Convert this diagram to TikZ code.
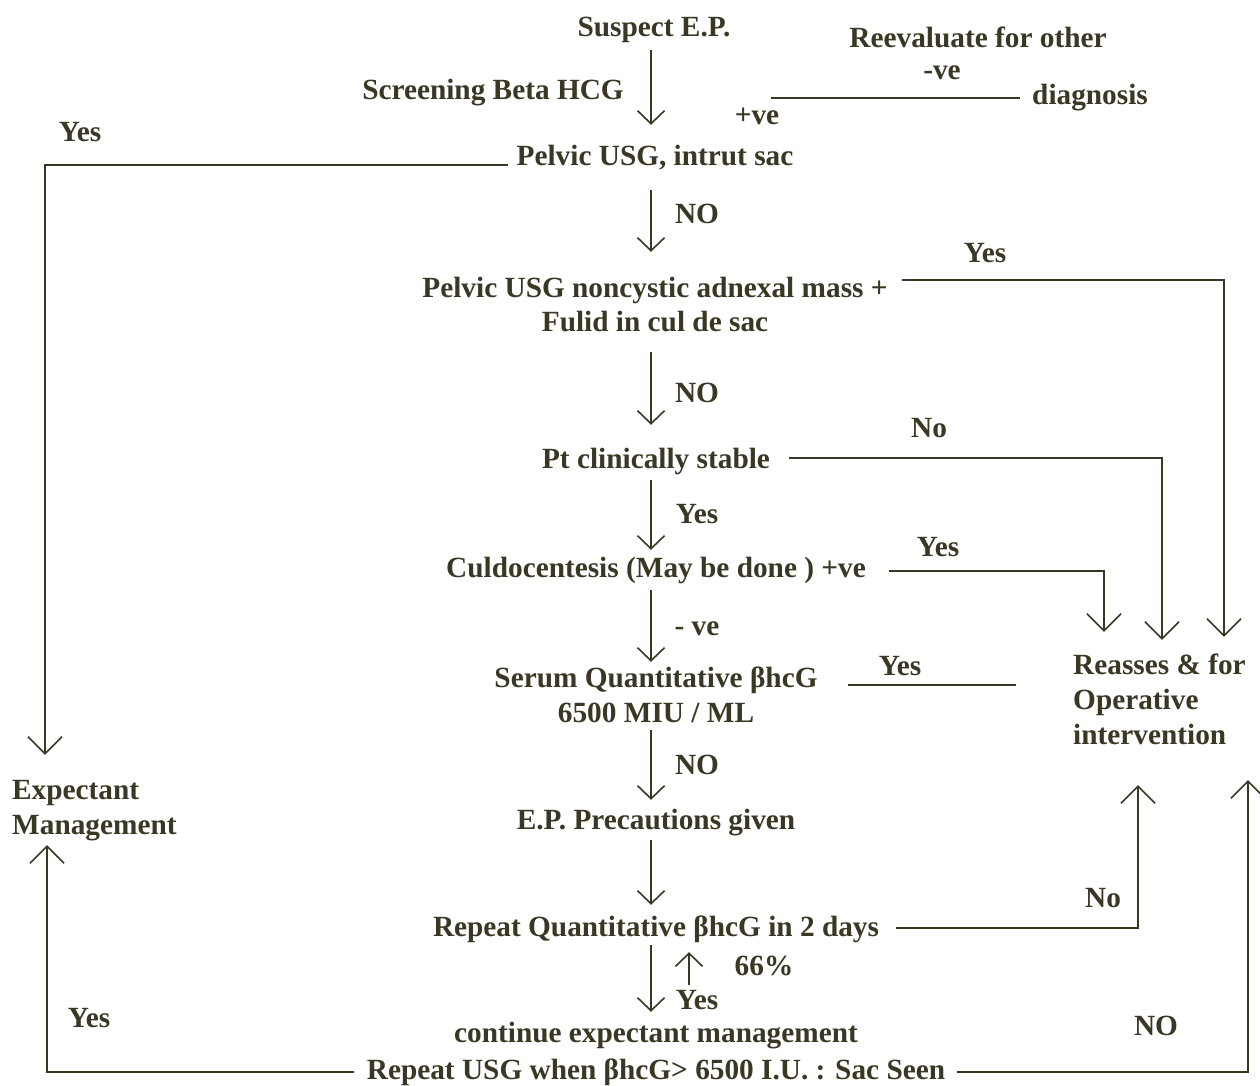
\documentclass[tikz,border=0pt]{standalone}
\usepackage{fontspec}
\setmainfont{Liberation Serif}
\usetikzlibrary{arrows.meta}
\definecolor{ink}{RGB}{58,56,36}
\begin{document}
\begin{tikzpicture}[x=1pt,y=-1pt,
  txt/.style={font=\fontsize{29.3}{35}\selectfont\bfseries, text=ink, inner sep=0pt, text height=20pt, text depth=6pt, anchor=base},
  txtw/.style={txt, anchor=base west},
  arr/.style={draw=ink, line width=1.6pt, -{Straight Barb[length=13pt,width=27pt,line width=1.6pt]}},
  arrb/.style={draw=ink, line width=1.6pt, -{Straight Barb[length=17pt,width=34pt,line width=1.6pt]}},
  ln/.style={draw=ink, line width=1.6pt}]
\fill[white] (0,0) rectangle (1260,1086);
\useasboundingbox (0,0) rectangle (1260,1086);
% axis coordinates
\coordinate (ax) at (651,0);
\coordinate (ux) at (689,0);
\coordinate (cL) at (45,0);
\coordinate (cL2) at (47,0);
\coordinate (r1) at (1104,0);
\coordinate (r2) at (1162,0);
\coordinate (r3) at (1224,0);
\coordinate (r4) at (1138,0);
\coordinate (r5) at (1248,0);
\coordinate (negL) at (771,98);
% main texts
\node[txt] (suspect) at (654,37) {Suspect E.P.};
\node[txt] (screen) at (493,100) {Screening Beta HCG};
\node[txt] (plusve) at (757,125) {+ve};
\node[txt] (minusve) at (942,80) {-ve};
\node[txt] (reeval) at (978,48) {Reevaluate for other};
\node[txtw] (diag) at (1032,105) {diagnosis};
\node[txt] (yes1) at (80,142) {Yes};
\node[txt] (pelvicA) at (655,166) {Pelvic USG, intrut sac};
\node[txt] (no1) at (697,223) {NO};
\node[txt] (yes2) at (985,262) {Yes};
\node[txt] (massA) at (655,297) {Pelvic USG noncystic adnexal mass +};
\node[txt] (massB) at (655,331) {Fulid in cul de sac};
\node[txt] (no2) at (697,402) {NO};
\node[txt] (no3) at (929,437) {No};
\node[txt] (stable) at (656,468) {Pt clinically stable};
\node[txt] (yes3) at (697,523) {Yes};
\node[txt] (yes4) at (938,556) {Yes};
\node[txt] (culdo) at (656,577) {Culdocentesis (May be done ) +ve};
\node[txt] (negve) at (697,635) {- ve};
\node[txt] (yes5) at (900,675) {Yes};
\node[txt] (serumA) at (656,687) {Serum Quantitative βhcG};
\node[txt] (serumB) at (656,722) {6500 MIU / ML};
\node[txtw] (reassA) at (1073,674) {Reasses \& for};
\node[txtw] (reassB) at (1073,709) {Operative};
\node[txtw] (reassC) at (1073,744) {intervention};
\node[txt] (no4) at (697,774) {NO};
\node[txtw] (expA) at (12,799) {Expectant};
\node[txtw] (expB) at (12,834) {Management};
\node[txt] (prec) at (656,829) {E.P. Precautions given};
\node[txt] (no5) at (1103,907) {No};
\node[txt] (repeatQ) at (656,936) {Repeat Quantitative βhcG in 2 days};
\node[txt] (pct) at (764,975) {66\%};
\node[txt] (yes6) at (697,1009) {Yes};
\node[txt] (yes7) at (89,1027) {Yes};
\node[txt] (no6) at (1156,1035) {NO};
\node[txt] (cont) at (656,1042) {continue expectant management};
\node[txt] (repUSG) at (656,1079) {Repeat USG when βhcG> 6500 I.U. : Sac Seen};
% main vertical arrows
\draw[arr, shorten <=7pt, shorten >=21pt] (suspect.south -| ax) -- (pelvicA.north -| ax);
\draw[arr, shorten <=18pt, shorten >=25pt] (pelvicA.south -| ax) -- (massA.north -| ax);
\draw[arr, shorten <=15pt, shorten >=23pt] (massB.south -| ax) -- (stable.north -| ax);
\draw[arr, shorten <=6pt, shorten >=7pt] (stable.south -| ax) -- (culdo.north -| ax);
\draw[arr, shorten <=7pt, shorten >=5pt] (culdo.south -| ax) -- (serumA.north -| ax);
\draw[arr, shorten <=2pt, shorten >=9pt] (serumB.south -| ax) -- (prec.north -| ax);
\draw[arr, shorten <=5pt, shorten >=11pt] (prec.south -| ax) -- (repeatQ.north -| ax);
\draw[arr, shorten <=3pt, shorten >=10pt] (repeatQ.south -| ax) -- (cont.north -| ax);
\draw[arr, shorten <=37pt, shorten >=10pt] (cont.north -| ux) -- (repeatQ.south -| ux);
% -ve line
\draw[ln, shorten >=12pt] (negL) -- (negL -| diag.west);
% side connectors
\draw[arrb, shorten <=8pt, shorten >=24pt] ([yshift=-6pt]pelvicA.west) -| (expA.north -| cL);
\draw[arrb, shorten <=14pt, shorten >=17pt] ([yshift=10pt]massA.east) -| (reassA.north -| r3);
\draw[arrb, shorten <=19pt, shorten >=14pt] ([yshift=3pt]stable.east) -| (reassA.north -| r2);
\draw[arrb, shorten <=23pt, shorten >=22pt] ([yshift=-1pt]culdo.east) -| (reassA.north -| r1);
\draw[ln, shorten <=30pt, shorten >=57pt] ([yshift=-5pt]serumA.east) -- ([yshift=-5pt]serumA.east -| reassA.west);
\draw[arrb, shorten <=17pt, shorten >=35pt] ([yshift=1pt]repeatQ.east) -| (reassC.south -| r4);
\draw[arrb, shorten <=13pt, shorten >=5pt] (repUSG.west) -| (expB.south -| cL2);
\draw[arrb, shorten <=12pt, shorten >=30pt] (repUSG.east) -| (reassC.south -| r5);
\end{tikzpicture}
\end{document}
